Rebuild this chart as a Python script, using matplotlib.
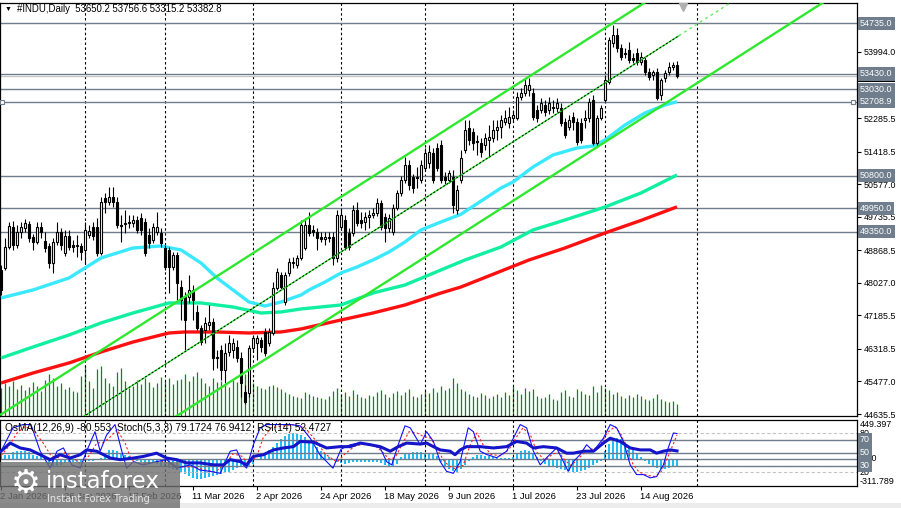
import numpy as np
import matplotlib
matplotlib.use("Agg")
import matplotlib.pyplot as plt
from matplotlib.patches import Rectangle

plt.rcParams['font.family'] = ['Liberation Sans', 'DejaVu Sans']

# ---------------- data ----------------
header = "#INDU,Daily  53650.2 53756.6 53315.2 53382.8"
ind_header = "OsMA(12,26,9) -80.553  Stoch(5,3,3) 79.1724 76.9412  RSI(14) 52.4727"

opens = [48360, 48410, 48950, 49470, 49010, 49340, 49440, 49550, 49210, 49080,
         49470, 49110, 48980, 48540, 49080, 49340, 48800, 49240, 49010, 48980,
         48980, 48880, 49260, 49470, 49470, 48800, 50220, 50120, 50250, 50120,
         49520, 49550, 49570, 49570, 49650, 49700, 49600, 49260, 49130, 49340,
         49320, 48930, 48880, 48440, 48750, 47920, 47660, 47660, 47840, 47270,
         46860, 46810, 46940, 47010, 46110, 46290, 45770, 46240, 46290, 46370,
         46080, 45210, 45180, 46340, 46470, 46550, 46760, 46470, 46730, 47890,
         48230, 47530, 48280, 48540, 48490, 48670, 48930, 49520, 49390, 49340,
         49210, 49160, 49190, 49210, 48670, 49470, 49650, 49320, 49320, 49910,
         49650, 49600, 49730, 49780, 49830, 50090, 49730, 49440, 49340, 49960,
         50350, 50690, 51070, 50760, 50760, 50690, 51000, 51120, 51380, 51510,
         51590, 50760, 50690, 50760, 49910, 50690, 51460, 52030, 51930, 51690,
         51640, 51590, 51720, 51770, 51980, 52060, 52190, 52160, 52290, 52290,
         52830, 52930, 53010, 52930, 52500, 52500, 52620, 52500, 52570, 52550,
         52550, 52190, 52060, 52310, 52190, 52160, 52240, 52290, 52750, 51640,
         52290, 52750, 53220, 54230, 54430, 54100, 53970, 54050, 53840, 53970,
         53740, 53790, 53480, 53400, 53480, 52880, 53320, 53480, 53610, 53650.2]

highs = [48490, 49190, 49600, 49630, 49520, 49600, 49680, 49630, 49290, 49600,
         49600, 49340, 49060, 49190, 49600, 49440, 49390, 49390, 49130, 49260,
         49060, 49600, 49520, 49600, 49700, 50250, 50350, 50500, 50500, 50250,
         49780, 49910, 49780, 49780, 49760, 49830, 49700, 49440, 49570, 49860,
         49440, 49010, 48950, 48820, 48820, 48100, 47790, 48230, 47970, 47450,
         46940, 47140, 47450, 47120, 46290, 46420, 46470, 46680, 46600, 46550,
         46240, 45390, 46420, 46680, 46680, 46630, 46860, 46860, 48050, 48410,
         48310, 48310, 48670, 48700, 48750, 49650, 49700, 49860, 49520, 49450,
         49340, 49340, 49340, 49340, 49910, 49960, 49780, 49450, 50040, 50120,
         49860, 49860, 49910, 49960, 50220, 50170, 49830, 49810, 50070, 50430,
         50790, 51280, 51200, 50840, 51020, 51200, 51510, 51590, 51510, 51640,
         51720, 50890, 50940, 50940, 50560, 51460, 52240, 52240, 52030, 51850,
         51770, 51900, 52110, 52240, 52240, 52370, 52500, 52570, 52500, 52960,
         53060, 53320, 53320, 53060, 52620, 52810, 52750, 52830, 52750, 52810,
         52680, 52290, 52370, 52440, 52290, 52290, 52500, 52810, 52880, 52370,
         52620, 53400, 54380, 54690, 54610, 54200, 54100, 54250, 53970, 54100,
         53990, 53890, 53580, 53530, 53580, 53320, 53530, 53740, 53740, 53756.6]

lows = [47710, 48360, 48900, 48880, 48930, 49190, 49340, 49080, 48880, 49030,
        49190, 48820, 48410, 48280, 49010, 48880, 48720, 48880, 48820, 48700,
        48620, 48540, 49190, 49130, 48720, 48750, 49830, 50040, 49990, 49440,
        49080, 49320, 49440, 49470, 49320, 49260, 48720, 48930, 49060, 49260,
        48950, 48360, 47760, 48360, 47580, 47070, 46290, 47510, 47070, 46810,
        46420, 46470, 46810, 45770, 45830, 45520, 45440, 46140, 46080, 45980,
        45080, 44900, 45080, 46240, 46030, 46240, 46140, 46390, 46680, 47840,
        47840, 47450, 48200, 48410, 48410, 48620, 48880, 49240, 49240, 48880,
        49080, 49010, 49080, 48490, 48570, 49390, 48880, 48880, 49240, 49500,
        49440, 49390, 49440, 49700, 49760, 49390, 49080, 49340, 49260, 49910,
        50270, 50610, 50430, 50350, 50480, 50610, 50920, 51000, 50610, 50920,
        50610, 50560, 50610, 49830, 49810, 50610, 51380, 51590, 51460, 51330,
        51280, 51460, 51280, 51670, 51720, 51770, 52110, 52030, 52190, 52240,
        52750, 52860, 52860, 52240, 52190, 52420, 52340, 52390, 52420, 52440,
        52080, 51770, 51980, 51980, 51590, 51640, 52030, 52190, 51590, 51560,
        52240, 52700, 53170, 54120, 53990, 53790, 53840, 53710, 53710, 53660,
        53660, 53400, 53270, 53270, 52750, 52760, 53220, 53400, 53530, 53315.2]

closes = [47840, 48950, 49500, 49010, 49340, 49470, 49570, 49190, 49080, 49470,
          49340, 48930, 48540, 49080, 49340, 49010, 49240, 48950, 48950, 49010,
          48820, 49390, 49370, 49240, 48800, 50120, 50120, 50250, 50120, 49520,
          49500, 49570, 49600, 49650, 49390, 49390, 48800, 49060, 49470, 49470,
          49060, 48440, 48440, 48750, 48020, 47580, 47070, 47840, 47580, 46860,
          46500, 46990, 47010, 46080, 46080, 45770, 46210, 46470, 46470, 46080,
          45440, 44950, 46340, 46600, 46600, 46370, 46210, 46760, 47890, 48310,
          47920, 48230, 48570, 48570, 48670, 49520, 49520, 49320, 49340, 49190,
          49160, 49210, 49210, 48670, 49780, 49780, 48950, 48950, 49910, 49570,
          49570, 49730, 49780, 49830, 50090, 49470, 49440, 49700, 49960, 50350,
          50690, 51070, 50560, 50480, 50740, 51070, 51380, 51410, 50690, 51000,
          50690, 50690, 50870, 50040, 50430, 51250, 51980, 51720, 51640, 51670,
          51410, 51770, 51800, 51980, 52060, 52240, 52290, 52310, 52370, 52830,
          52930, 53140, 53140, 52310, 52290, 52680, 52440, 52680, 52550, 52680,
          52160, 51850, 52240, 52190, 51670, 51720, 52290, 52700, 51640, 52290,
          52550, 53270, 54300, 54430, 54100, 53870, 53940, 53790, 53790, 53740,
          53870, 53480, 53350, 53480, 52810, 53270, 53450, 53610, 53660, 53382.8]

volumes = [28, 33, 30, 35, 27, 31, 26, 29, 34, 30,
           25, 36, 42, 38, 30, 33, 27, 29, 25, 24,
           40, 50, 35, 28, 47, 50, 38, 33, 30, 44,
           48, 35, 28, 30, 36, 32, 38, 34, 29, 33,
           39, 35, 38, 32, 36, 37, 42, 35, 40, 44,
           38, 33, 30, 38, 34, 35, 32, 29, 36, 34,
           38, 42, 36, 33, 30, 28, 27, 30, 31, 29,
           27, 24, 22, 20, 19, 18, 24, 22, 20, 19,
           18, 17, 20, 25, 28, 22, 24, 20, 26, 22,
           19, 18, 21, 20, 24, 26, 22, 19, 23, 25,
           21, 24, 27, 20, 19, 22, 25, 23, 28, 24,
           30, 26, 28, 38, 33, 27, 25, 22, 20, 19,
           23, 21, 18, 20, 22, 19, 24, 21, 30, 26,
           22, 28, 25, 27, 20, 18, 19, 22, 17, 16,
           24, 26, 20, 19, 27, 25, 22, 21, 30, 24,
           31, 28, 26, 22, 24, 20, 18, 21, 19, 22,
           20, 17, 16, 18, 22, 17, 15, 14, 15, 12]

# moving averages (bar index, value) read at sample points
ma_fast_bars = [0, 8, 17, 25, 33, 40, 45, 50, 54, 58, 62, 66, 70, 75, 77, 81, 85, 89,
                93, 97, 101, 105, 110, 115, 125, 128, 133, 138, 144, 148, 151, 156, 161, 166, 169]
ma_fast = [47635, 47842, 48152, 48669, 48927, 48979, 48876, 48539, 48152, 47842, 47531,
           47428, 47531, 47712, 47842, 48048, 48281, 48436, 48617, 48824, 49083, 49393,
           49600, 49800, 50478, 50633, 51021, 51332, 51512, 51564, 51719, 52107, 52417,
           52624, 52709]
ma_mid_bars = [0, 8, 17, 25, 33, 42, 50, 58, 65, 70, 75, 85, 93, 101, 110, 116, 125,
               133, 141, 151, 160, 169]
ma_mid = [46084, 46368, 46678, 46989, 47247, 47506, 47506, 47402, 47247, 47273, 47351,
          47454, 47764, 47971, 48359, 48617, 48953, 49393, 49651, 49987, 50349, 50815]
ma_slow_bars = [0, 8, 17, 25, 33, 42, 46, 54, 62, 70, 75, 85, 93, 101, 110, 115, 132,
                141, 151, 160, 169]
ma_slow = [45437, 45696, 45955, 46239, 46497, 46730, 46756, 46756, 46730, 46756, 46834,
           47066, 47247, 47454, 47764, 47919, 48617, 48927, 49315, 49640, 49990]

# price channel anchors (bar, price)
chan_bars = [0, 160]
chan_upper = [44626, 55209]
chan_middle = [43204, 53787]
chan_lower = [41679, 52262]

levels = [54735.0, 53430.0, 53030.0, 52708.9, 50800.0, 49950.0, 49350.0]
last_price = 53382.8
price_ticks = [53994.0, 52285.5, 51418.5, 50577.0, 49735.5, 48868.5, 48027.0,
               47185.5, 46318.5, 45477.0, 44635.5]

date_bars = [0, 16, 32, 48, 64, 80, 96, 112, 128, 144, 160]
date_labels = ["2 Jan 2026", "26 Jan 2026", "17 Feb 2026", "11 Mar 2026", "2 Apr 2026",
               "24 Apr 2026", "18 May 2026", "9 Jun 2026", "1 Jul 2026", "23 Jul 2026",
               "14 Aug 2026"]
month_bars = [21, 41, 63, 85, 106, 128, 151, 174]

osma = [35, 46, 46, 81, 92, 92, 92, 81, 46, 35,
        35, 23, -58, -92, -92, -69, -46, -35, -35, -35,
        -35, -23, -23, -23, -12, 12, 69, 104, 104, 92,
        69, 46, 35, 12, -23, -35, -46, -46, -46, -58,
        -81, -92, -104, -115, -127, -150, -173, -196, -219, -230,
        -230, -219, -207, -196, -184, -173, -161, -150, -127, -104,
        -92, -92, -81, -58, -12, 35, 69, 104, 138, 184,
        230, 265, 288, 299, 288, 276, 253, 219, 184, 138,
        92, 58, 23, -12, -35, -46, -58, -46, -35, -35,
        -35, -35, -35, -35, -35, -46, -69, -92, -81, -58,
        23, 58, 69, 81, 81, 81, 69, 69, 58, 35,
        -35, -81, -115, -138, -150, -115, -69, -23, 23, 46,
        46, 35, 35, 23, 12, 12, 12, 12, 23, 58,
        92, 104, 92, 69, 23, -23, -58, -81, -92, -104,
        -115, -127, -138, -150, -150, -138, -127, -104, -69, -46,
        -23, 92, 173, 230, 242, 230, 196, 150, 104, 58,
        23, -23, -58, -92, -104, -115, -115, -104, -92, -80.553]

stoch_main = [(0, 52), (3, 88), (5.5, 93), (7.5, 93), (9.8, 52), (12.3, 26), (14, 52),
              (15.6, 57), (17.7, 31), (19.8, 26), (21.4, 52), (23.5, 82), (24.8, 52),
              (26.4, 77), (28.5, 93), (30.2, 52), (31.4, 26), (33.1, 36), (35.6, 31),
              (38.9, 36), (41.4, 39), (43.9, 26), (47.3, 31), (49.8, 23), (52.3, 21),
              (54.8, 18), (57.3, 52), (58.9, 54), (60.6, 31), (61.4, 26), (63.1, 62),
              (64.8, 88), (66.4, 93), (72.3, 93), (74.8, 91), (77.3, 72), (79.8, 46),
              (83, 26), (85, 55), (87.3, 62), (89.8, 65), (92.3, 62), (94.8, 57),
              (96.4, 36), (97.7, 31), (99.3, 62), (101, 91), (102.3, 88), (104.8, 62),
              (106.4, 82), (108.1, 67), (109.8, 36), (111.4, 21), (113.1, 18),
              (114.8, 36), (116.8, 88), (118.1, 82), (119.8, 52), (121.4, 47),
              (123.9, 42), (126.4, 52), (128.1, 72), (129.8, 93), (131.4, 88),
              (133.1, 52), (134.8, 31), (136.4, 42), (138.9, 57), (140.6, 36),
              (141.8, 21), (143.1, 36), (144.8, 47), (146.4, 62), (148.1, 52),
              (150.6, 72), (152.3, 93), (153.9, 88), (155.6, 67), (157.3, 31),
              (158.9, 16), (160.6, 16), (162.3, 11), (163.9, 13), (165.6, 31),
              (166.8, 57), (168.1, 80), (169, 79.17)]

stoch_signal = [(0, 45), (2, 60), (4, 80), (6, 90), (8, 85), (10.5, 65), (12.5, 45),
                (14.5, 42), (16, 50), (18, 42), (20, 32), (22, 45), (24, 65), (25.5, 65),
                (27, 72), (29, 85), (31, 65), (32.5, 40), (34.5, 32), (37, 33), (40, 37),
                (42.5, 32), (45, 28), (48, 28), (51, 23), (53.5, 20), (56, 32), (58, 48),
                (60, 45), (62, 33), (64, 45), (65.5, 72), (67.5, 88), (73, 93), (76, 88),
                (78.5, 70), (81, 48), (84, 35), (86, 48), (88.5, 60), (91, 63),
                (93.5, 61), (95.5, 50), (97, 40), (98.5, 42), (100.5, 65), (102, 82),
                (104, 80), (105.5, 75), (107.5, 72), (109, 55), (111, 35), (113, 25),
                (115.5, 30), (117.5, 65), (119, 80), (120.5, 62), (122.5, 47), (125, 45),
                (127, 55), (129, 75), (130.5, 88), (132.5, 75), (134, 50), (136, 38),
                (138, 48), (139.5, 50), (141, 38), (142.5, 30), (144, 38), (145.5, 48),
                (147.5, 55), (149.5, 58), (151.5, 80), (153.5, 90), (155, 78),
                (156.5, 55), (158, 32), (159.5, 20), (161.5, 15), (163.5, 13), (165, 20),
                (166.5, 40), (168, 62), (169, 76.94)]

rsi = [(0, 52), (2.3, 64.5), (4.8, 57), (7.3, 54), (9.8, 46.6), (12.3, 39), (14.8, 46.6),
       (17.3, 41.5), (19.8, 46.6), (21.4, 54), (23.9, 52), (27.3, 41.5), (29.8, 39),
       (33.1, 41.5), (35.6, 44), (38.9, 49), (41.4, 41.5), (43.9, 39), (46.4, 34),
       (49.8, 34), (53.1, 31), (55.6, 31), (57.3, 39), (59.8, 36), (61.4, 31), (63.1, 44),
       (65.6, 46.6), (68.1, 54), (70.6, 57), (73.1, 59), (74.8, 67), (78.1, 66),
       (81.4, 57), (84.8, 59), (87.3, 59), (89.8, 64.5), (92.3, 62), (94.8, 59),
       (97.3, 52), (99.3, 59), (101.4, 64.5), (104.8, 63), (106.4, 64.5), (108.1, 59),
       (109.8, 54), (112.3, 52), (113.5, 46.6), (114.8, 54), (116.4, 59), (119.8, 59),
       (123.1, 57), (126.4, 59), (128.9, 67), (131.4, 64.5), (133.1, 57), (135.6, 59),
       (138.9, 57), (141.4, 49), (143.1, 49), (145.6, 52), (148.1, 52), (150.6, 64.5),
       (152.3, 72), (154.8, 67), (157.3, 57), (159.8, 54), (162.3, 54), (163.9, 49),
       (165.6, 52), (167.3, 54), (169, 52.47)]

osma_top, osma_bottom = 449.397, -311.789

# ---------------- layout helpers (pixels) ----------------
W, H = 901, 508
FS = 6.4
LEVEL_C = '#6f7d8c'


def box(x0, y0, x1, y1):
    return [x0 / W, 1 - y1 / H, (x1 - x0) / W, (y1 - y0) / H]


fig = plt.figure(figsize=(W / 100, H / 100), dpi=100)
fig.patch.set_facecolor('white')

XLIM = (-0.25, 214)

# ---------------- main price panel ----------------
ax = fig.add_axes(box(0, 3, 857, 416))
axv = ax.twinx()
axv.set_zorder(ax.get_zorder() - 1)
ax.patch.set_visible(False)
axv.axis('off')
axv.set_ylim(0, 413)

ax.set_xlim(*XLIM)
ax.set_ylim(44584, 55260)

o = np.array(opens); h = np.array(highs); l = np.array(lows); c = np.array(closes)
x = np.arange(len(c))
up = c >= o

axv.vlines(x, 0, volumes, color='#0b8a0b', lw=0.9)

for b in month_bars:
    ax.axvline(b, color='black', lw=0.8, ls=(0, (2.2, 2.2)), zorder=1)

for lv in levels:
    ax.axhline(lv, color=LEVEL_C, lw=1.0, zorder=2)
ax.axhline(last_price, color='#c8c8c8', lw=1.0, zorder=2)

ax.plot(ma_slow_bars, ma_slow, color='#ff1010', lw=2.4, zorder=3, solid_capstyle='butt')
ax.plot(ma_mid_bars, ma_mid, color='#10f0a0', lw=2.4, zorder=3, solid_capstyle='butt')
ax.plot(ma_fast_bars, ma_fast, color='#3ae8ff', lw=2.4, zorder=3, solid_capstyle='butt')

ax.vlines(x, l, h, color='black', lw=0.8, zorder=4)
ax.bar(x[up], (c - o)[up], bottom=o[up], width=0.55, color='white',
       edgecolor='black', linewidth=0.8, zorder=5)
ax.bar(x[~up], (c - o)[~up], bottom=o[~up], width=0.55, color='black',
       edgecolor='black', linewidth=0.8, zorder=5)

# channel
slope = (chan_upper[1] - chan_upper[0]) / (chan_bars[1] - chan_bars[0])
x_end = XLIM[1]
for base in (chan_upper, chan_lower):
    ax.plot([chan_bars[0], x_end], [base[0], base[0] + slope * (x_end - chan_bars[0])],
            color='#2ee82e', lw=1.7, zorder=6)
x_last = len(c) - 0.5
mid_last = chan_middle[0] + slope * (x_last - chan_bars[0])
ax.plot([chan_bars[0], x_last], [chan_middle[0], mid_last], color='#2ee82e', lw=1.0, zorder=6)
ax.plot([chan_bars[0], x_last], [chan_middle[0], mid_last], color='black', lw=0.7,
        ls=(0, (2, 2)), zorder=6)
ax.plot([x_last, x_end], [mid_last, chan_middle[0] + slope * (x_end - chan_bars[0])],
        color='#5ef05e', lw=1.0, ls=(0, (2, 2.5)), zorder=6)

# handles of the selected horizontal line
ax.plot([0.25, 213], [levels[3], levels[3]], ls='none', marker='s', ms=3.2,
        mfc='white', mec=LEVEL_C, mew=0.8, zorder=7, clip_on=False)

# shift marker
ax.plot([170.5], [0.99], transform=ax.get_xaxis_transform(), marker='v', ms=6,
        color='#b0b0b0', ls='none', zorder=7)

ax.set_xticks([])
ax.yaxis.tick_right()
ax.set_yticks(price_ticks)
ax.set_yticklabels([f'{t:.1f}' for t in price_ticks])
ax.tick_params(axis='y', length=3, width=0.8, pad=1.5, labelsize=FS, colors='black')
for s in ax.spines.values():
    s.set_linewidth(0.9)

ytr = ax.get_yaxis_transform()
ax.text(1.0035, last_price, f'{last_price:.1f}', transform=ytr, fontsize=FS, color='white',
        va='center', ha='left', clip_on=False, zorder=9,
        bbox=dict(boxstyle='square,pad=0.25', fc='black', ec='none'))
for lv in levels:
    ax.text(1.0035, lv, f'{lv:.1f}', transform=ytr, fontsize=FS, color='white',
            va='center', ha='left', clip_on=False, zorder=10,
            bbox=dict(boxstyle='square,pad=0.25', fc=LEVEL_C, ec='none'))

fig.text(5 / W, 1 - 9 / H, '▼', fontsize=5, va='center', ha='left', color='black')
fig.text(17 / W, 1 - 9 / H, header, fontsize=6.9, va='center', ha='left', color='black')

# ---------------- indicator panel ----------------
ax2 = fig.add_axes(box(0, 420, 857, 486))
ax3 = ax2.twinx()
ax3.set_zorder(ax2.get_zorder() - 1)
ax2.patch.set_visible(False)
ax3.axis('off')
ax2.set_xlim(*XLIM)
ax2.set_ylim(-1.5, 100)
ax3.set_ylim(osma_bottom, osma_top)

ax3.bar(x, osma, width=0.7, color='#22bdf2', linewidth=0)
ax3.axhline(0, color=LEVEL_C, lw=1.0)
for lv in (70, 50, 30):
    ax2.axhline(lv, color=LEVEL_C, lw=1.0, zorder=1)
for lv in (80, 20):
    ax2.axhline(lv, color='#c4c4c4', lw=0.8, ls=(0, (3, 2)), zorder=1)
for b in month_bars:
    ax2.axvline(b, color='black', lw=0.8, ls=(0, (2.2, 2.2)), zorder=1)

sx, sy = zip(*stoch_signal)
ax2.plot(sx, sy, color='#ff2020', lw=0.8, ls=(0, (2, 2)), zorder=3)
mx, my = zip(*stoch_main)
ax2.plot(mx, my, color='#1010ff', lw=0.8, zorder=4)
rx, ry = zip(*rsi)
ax2.plot(rx, ry, color='#1414c8', lw=2.2, zorder=5)

ax2.set_yticks([])
ax2.set_xticks(date_bars)
ax2.set_xticklabels([])
ax2.tick_params(axis='x', length=3, width=0.8, direction='out')
for s in ax2.spines.values():
    s.set_linewidth(0.9)

xtr = ax2.get_xaxis_transform()
for b, lbl in zip(date_bars, date_labels):
    ax2.text(b - 0.2, -0.09, lbl, transform=xtr, ha='left', va='top', fontsize=FS + 0.4)

ytr2 = ax2.get_yaxis_transform()
ytr3 = ax3.get_yaxis_transform()
ax3.text(1.0035, osma_top, f'{osma_top:.3f}', transform=ytr3, fontsize=FS, va='top',
         ha='left', clip_on=False)
ax3.text(1.0035, 0, '0.00', transform=ytr3, fontsize=FS, va='center', ha='left',
         clip_on=False)
ax3.text(1.0035, osma_bottom, f'{osma_bottom:.3f}', transform=ytr3, fontsize=FS,
         va='bottom', ha='left', clip_on=False)
for lv in (80, 20):
    ax2.text(1.0035, lv, str(lv), transform=ytr2, fontsize=FS, va='center', ha='left',
             clip_on=False)
for lv in (70, 50, 30):
    ax2.text(1.0035, lv, str(lv), transform=ytr2, fontsize=FS, color='white', va='center',
             ha='left', clip_on=False, zorder=10,
             bbox=dict(boxstyle='square,pad=0.2', fc=LEVEL_C, ec='none'))

fig.text(5 / W, 1 - 428 / H, ind_header, fontsize=7.3, va='center', ha='left',
         color='black')

# ---------------- bottom strip and watermark ----------------
fig.patches.append(Rectangle((0, 0), 1, 5 / H, transform=fig.transFigure,
                             fc='#ececec', ec='none', zorder=0))
fig.patches.append(Rectangle((0, 0), 180 / W, 46 / H, transform=fig.transFigure,
                             fc='#6e6e6e', ec='none', alpha=0.8, zorder=20))
fig.text(26 / W, 1 - 483 / H, '⚙', family='DejaVu Sans', fontsize=24, color='white',
         ha='center', va='center', zorder=21)
fig.text(46 / W, 1 - 481 / H, 'instaforex', family='DejaVu Sans', fontsize=16.5,
         color='white', ha='left', va='center', zorder=21)
fig.text(47 / W, 1 - 499 / H, 'Instant Forex Trading', family='DejaVu Sans', fontsize=7,
         color='#e6e6e6', ha='left', va='center', zorder=21)

fig.savefig('out.png', dpi=100)
